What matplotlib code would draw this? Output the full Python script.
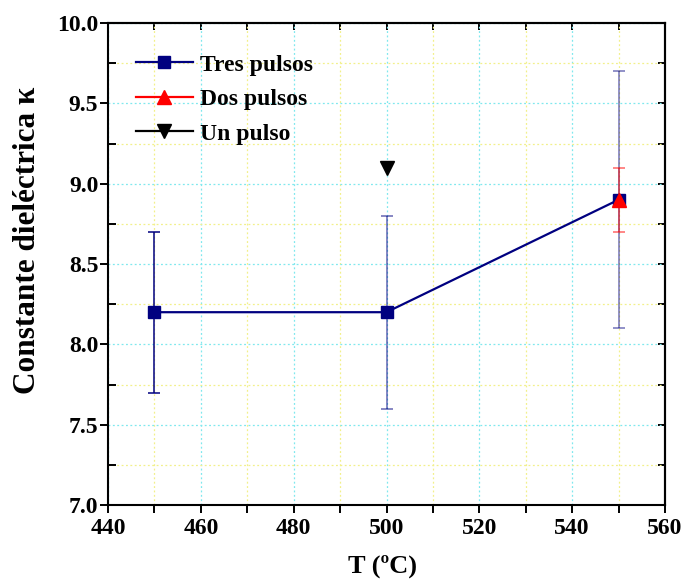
import matplotlib
matplotlib.use("Agg")
import matplotlib.pyplot as plt
from matplotlib.ticker import MultipleLocator, FormatStrFormatter

# Data
T_tres = [450, 500, 550]
k_tres = [8.2, 8.2, 8.9]
err_tres = [0.5, 0.6, 0.8]
err_alpha = [1.0, 0.6, 0.55]

T_dos = [550]
k_dos = [8.9]
err_dos = [0.2]

T_un = [500]
k_un = [9.1]

xticks = [440, 460, 480, 500, 520, 540, 560]
yticks = [7.0, 7.5, 8.0, 8.5, 9.0, 9.5, 10.0]

plt.rcParams['font.family'] = ['Liberation Serif', 'DejaVu Serif']
plt.rcParams['font.weight'] = 'bold'

W, H = 688, 583
L, R, Tp, B = 108, 665, 23, 505
fig = plt.figure(figsize=(W/100, H/100), dpi=100)
ax = fig.add_axes([L/W, 1-B/H, (R-L)/W, (B-Tp)/H])

# grid
ax.set_axisbelow(True)
ax.grid(which='major', color='#7fe8ee', linestyle=(0, (1.5, 2)), linewidth=0.9)
ax.grid(which='minor', color='#f2f08a', linestyle=(0, (1.5, 2)), linewidth=0.9)

navy = '#000080'
# error bars (Tres pulsos)
for x, y, e, a in zip(T_tres, k_tres, err_tres, err_alpha):
    ax.errorbar([x], [y], yerr=[e], fmt='none', ecolor=navy, alpha=a,
                elinewidth=1.1, capsize=4, capthick=1.1, zorder=2)
# error bars (Dos pulsos)
ax.errorbar(T_dos, k_dos, yerr=err_dos, fmt='none', ecolor='red', alpha=0.6,
            elinewidth=1.1, capsize=4, capthick=1.1, zorder=2)

ax.plot(T_tres, k_tres, color=navy, linewidth=1.6, marker='s', markersize=9,
        label='Tres pulsos', zorder=3)
ax.plot(T_dos, k_dos, color='red', linewidth=1.6, marker='^', markersize=10,
        label='Dos pulsos', zorder=4)
ax.plot(T_un, k_un, color='black', linewidth=1.6, marker='v', markersize=10,
        label='Un pulso', zorder=4)

ax.set_xlim(440, 560)
ax.set_ylim(7.0, 10.0)
ax.set_xticks(xticks)
ax.set_yticks(yticks)
ax.xaxis.set_minor_locator(MultipleLocator(10))
ax.yaxis.set_minor_locator(MultipleLocator(0.25))
ax.yaxis.set_major_formatter(FormatStrFormatter('%.1f'))

for s in ax.spines.values():
    s.set_linewidth(1.5)

ax.tick_params(axis='x', which='both', direction='out', length=6, width=1.4,
               top=False, labelsize=17, pad=3)
ax.tick_params(axis='y', which='major', direction='out', length=6, width=1.4,
               right=False, labelsize=17, pad=1)
ax.tick_params(axis='y', which='minor', direction='in', length=6, width=1.4,
               right=False)
for lab in ax.get_xticklabels() + ax.get_yticklabels():
    lab.set_fontweight('bold')

secx = ax.secondary_xaxis('top')
secx.set_xticks(xticks)
secx.xaxis.set_minor_locator(MultipleLocator(10))
secx.tick_params(which='both', direction='in', length=5, width=1.4, labeltop=False)
secx.spines['top'].set_linewidth(1.5)

secy = ax.secondary_yaxis('right')
secy.set_yticks(yticks)
secy.yaxis.set_minor_locator(MultipleLocator(0.25))
secy.tick_params(which='both', direction='in', length=5, width=1.4, labelright=False)
secy.spines['right'].set_linewidth(1.5)

ax.set_xlabel('T (ºC)', fontsize=19, fontweight='bold')
ax.xaxis.set_label_coords((383-L)/(R-L), -(566-B)/(B-Tp), transform=ax.transAxes)
ax.xaxis.label.set_va('center')
ax.set_ylabel('Constante dieléctrica κ', fontsize=22.5, fontweight='bold')
ax.yaxis.set_label_coords(-(L-28)/(R-L), (B-240)/(B-Tp), transform=ax.transAxes)
ax.yaxis.label.set_va('center')

leg = ax.legend(loc='upper left', bbox_to_anchor=((136-L)/(R-L), 1-(54-Tp)/(B-Tp)),
                frameon=False,
                prop={'family': 'Liberation Serif', 'weight': 'bold', 'size': 17},
                handlelength=2.4, handletextpad=0.3, labelspacing=0.55, borderaxespad=0,
                borderpad=0)

fig.savefig('out.png', dpi=100)
